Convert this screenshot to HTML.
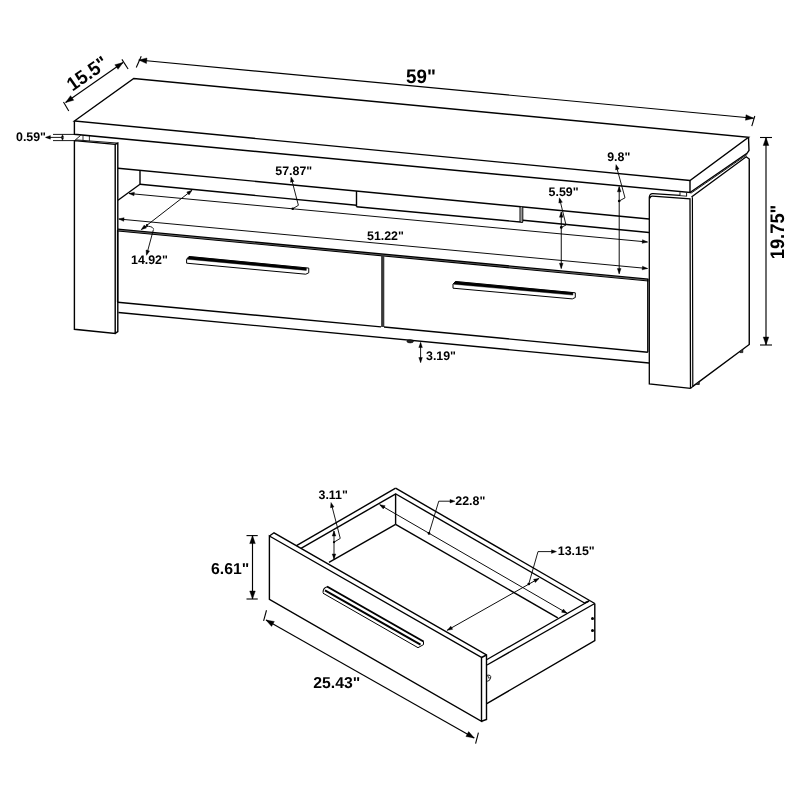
<!DOCTYPE html>
<html><head><meta charset="utf-8"><title>TV stand dimensions</title>
<style>
html,body{margin:0;padding:0;background:#fff;}
body{width:800px;height:800px;overflow:hidden;}
svg{display:block;}
svg line,svg path,svg ellipse{stroke:#000;stroke-linecap:butt;stroke-linejoin:miter;}
svg text{text-rendering:geometricPrecision;font-family:"Liberation Sans",sans-serif;font-weight:bold;fill:#000;stroke:none;}
</style></head><body>
<svg width="800" height="800" viewBox="0 0 800 800" style="will-change:transform;opacity:0.999;filter:blur(0.3px)">
<rect x="0" y="0" width="800" height="800" fill="#fff" stroke="none"/>
<path d="M74.40 121.00 L133.75 78.50 L748.50 137.30 L690.00 180.50 Z" stroke-width="1.4" fill="none" />
<path d="M74.40 121.00 L74.40 134.30 L690.00 192.50 L690.00 180.50" stroke-width="1.4" fill="none" />
<path d="M690.00 192.50 L747.00 153.30 L749.00 150.50 L748.50 137.30" stroke-width="1.4" fill="none" />
<line x1="690.80" y1="193.30" x2="747.30" y2="154.40" stroke-width="0.9" />
<path d="M74.40 140.60 L74.40 329.30 L115.20 333.40 L115.20 144.40 L74.40 140.60" stroke-width="1.4" fill="none" />
<path d="M115.20 144.40 L117.80 143.10 L117.80 331.60 L115.20 333.40" stroke-width="1.4" fill="none" />
<line x1="76.20" y1="139.90" x2="117.80" y2="143.10" stroke-width="0.9" />
<line x1="74.80" y1="140.40" x2="80.60" y2="135.40" stroke-width="0.9" />
<line x1="83.00" y1="135.30" x2="83.00" y2="140.30" stroke-width="0.8" />
<line x1="89.40" y1="135.90" x2="89.40" y2="140.90" stroke-width="0.8" />
<path d="M690.6 388.4 L649.3 384 L649.3 197.6 Q649.3 193.5 653 193.7 L680 195.4" fill="none" stroke-width="1.3"/>
<path d="M649.9 198.4 Q650.2 196.1 652.4 196.2 L690 198.8 L690.5 388.4" fill="none" stroke-width="1.3"/>
<path d="M692.40 197.30 L692.80 386.40 L690.60 388.40" stroke-width="1.2" fill="none" />
<line x1="680.00" y1="192.20" x2="680.00" y2="195.60" stroke-width="0.9" />
<line x1="686.60" y1="192.80" x2="686.60" y2="196.40" stroke-width="0.9" />
<line x1="680.00" y1="195.60" x2="686.60" y2="196.20" stroke-width="0.8" />
<path d="M691.50 197.00 L746.20 156.80 L749.25 159.00 L749.25 344.50 L692.80 386.40" stroke-width="1.4" fill="none" />
<path d="M696.50 383.40 L696.50 384.50 L699.30 384.50 L699.30 381.40" stroke-width="0.7" fill="#333" />
<path d="M740.00 351.20 L740.00 352.60 L742.80 352.60 L742.80 349.20" stroke-width="0.7" fill="#333" />
<line x1="118.00" y1="168.20" x2="649.00" y2="219.00" stroke-width="1.4" />
<line x1="140.00" y1="170.31" x2="140.00" y2="184.30" stroke-width="1.4" />
<line x1="140.00" y1="184.30" x2="356.50" y2="205.30" stroke-width="1.4" />
<line x1="356.50" y1="191.02" x2="356.50" y2="206.80" stroke-width="1.4" />
<line x1="356.50" y1="206.80" x2="522.80" y2="222.20" stroke-width="1.4" />
<line x1="521.40" y1="206.81" x2="521.40" y2="222.00" stroke-width="1.8" style="stroke:#999"/>
<line x1="520.00" y1="206.67" x2="520.00" y2="222.00" stroke-width="1.0" />
<line x1="522.80" y1="206.94" x2="522.80" y2="222.20" stroke-width="1.0" />
<line x1="522.80" y1="220.30" x2="649.00" y2="232.50" stroke-width="1.4" />
<line x1="140.00" y1="184.30" x2="118.00" y2="200.25" stroke-width="1.4" />
<line x1="129.00" y1="193.50" x2="647.50" y2="242.00" stroke-width="0.95" />
<path d="M129.00 193.50 L134.35 192.14 L134.01 195.83 Z" fill="#000" stroke="#000" stroke-width="0.4"/>
<path d="M647.50 242.00 L642.15 243.36 L642.49 239.67 Z" fill="#000" stroke="#000" stroke-width="0.4"/>
<line x1="118.75" y1="219.00" x2="647.50" y2="268.50" stroke-width="0.95" />
<path d="M118.75 219.00 L124.10 217.64 L123.75 221.33 Z" fill="#000" stroke="#000" stroke-width="0.4"/>
<path d="M647.50 268.50 L642.15 269.86 L642.50 266.17 Z" fill="#000" stroke="#000" stroke-width="0.4"/>
<line x1="117.80" y1="230.10" x2="648.50" y2="280.05" stroke-width="1.6" style="stroke:#777"/>
<line x1="117.80" y1="231.00" x2="648.50" y2="280.90" stroke-width="1.05" />
<line x1="117.80" y1="229.10" x2="648.50" y2="279.10" stroke-width="1.4" />
<line x1="117.60" y1="229.70" x2="117.60" y2="302.20" stroke-width="1.4" />
<line x1="117.60" y1="302.20" x2="381.00" y2="326.90" stroke-width="1.4" />
<line x1="382.70" y1="255.50" x2="382.70" y2="327.00" stroke-width="3.2" style="stroke:#383838"/>
<line x1="384.00" y1="327.00" x2="647.80" y2="352.20" stroke-width="1.4" />
<line x1="647.80" y1="279.00" x2="647.80" y2="352.20" stroke-width="1.4" />
<line x1="118.40" y1="312.50" x2="649.00" y2="363.00" stroke-width="1.4" />
<ellipse cx="410.2" cy="341.3" rx="3.3" ry="1.6" fill="#222" stroke="#000" stroke-width="0.6"/>
<path d="M189.00 256.50 L308.75 268.10 L308.75 272.80 L305.75 274.20 L186.60 263.20 L186.60 259.20 Z" stroke-width="1.0" fill="#fff" />
<path d="M189.00 256.50 L306.35 267.90 L306.35 270.40 L187.00 259.20 Z" stroke-width="0.4" fill="#000" />
<path d="M455.40 281.50 L575.30 292.80 L575.30 297.50 L572.30 298.90 L453.00 288.20 L453.00 284.20 Z" stroke-width="1.0" fill="#fff" />
<path d="M455.40 281.50 L572.90 292.60 L572.90 295.10 L453.40 284.20 Z" stroke-width="0.4" fill="#000" />
<line x1="65.60" y1="102.50" x2="123.00" y2="62.50" stroke-width="1.15" />
<path d="M65.60 102.50 L70.56 95.63 L73.76 100.22 Z" fill="#000" stroke="#000" stroke-width="0.4"/>
<path d="M123.00 62.50 L118.04 69.37 L114.84 64.78 Z" fill="#000" stroke="#000" stroke-width="0.4"/>
<line x1="63.50" y1="102.00" x2="68.75" y2="111.00" stroke-width="1.1" />
<line x1="121.90" y1="59.40" x2="128.10" y2="69.00" stroke-width="1.1" />
<text x="72.6" y="91.8" font-size="19.3" text-anchor="start" transform="rotate(-35 72.6 91.8)" textLength="45" lengthAdjust="spacingAndGlyphs">15.5&quot;</text>
<line x1="138.75" y1="60.00" x2="753.70" y2="118.25" stroke-width="1.15" />
<path d="M138.75 60.00 L146.98 57.97 L146.45 63.54 Z" fill="#000" stroke="#000" stroke-width="0.4"/>
<path d="M753.70 118.25 L745.47 120.28 L746.00 114.71 Z" fill="#000" stroke="#000" stroke-width="0.4"/>
<line x1="141.25" y1="56.25" x2="136.25" y2="67.50" stroke-width="1.1" />
<line x1="754.80" y1="116.00" x2="751.80" y2="126.20" stroke-width="1.1" />
<text x="406.0" y="82.5" font-size="19.5" text-anchor="start" textLength="29.8" lengthAdjust="spacingAndGlyphs">59&quot;</text>
<line x1="766.00" y1="137.50" x2="766.00" y2="345.00" stroke-width="1.15" />
<path d="M766.00 137.50 L768.80 145.50 L763.20 145.50 Z" fill="#000" stroke="#000" stroke-width="0.4"/>
<path d="M766.00 345.00 L763.20 337.00 L768.80 337.00 Z" fill="#000" stroke="#000" stroke-width="0.4"/>
<line x1="760.00" y1="137.50" x2="772.00" y2="137.50" stroke-width="1.1" />
<line x1="760.00" y1="345.00" x2="772.00" y2="345.00" stroke-width="1.1" />
<text x="784.3" y="259.3" font-size="19.6" text-anchor="start" transform="rotate(-90 784.3 259.3)" textLength="54.6" lengthAdjust="spacingAndGlyphs">19.75&quot;</text>
<text x="16" y="141.2" font-size="12.4" text-anchor="start">0.59&quot;</text>
<line x1="53.00" y1="134.40" x2="75.00" y2="134.40" stroke-width="0.9" />
<line x1="53.00" y1="140.60" x2="75.00" y2="140.60" stroke-width="0.9" />
<line x1="46.00" y1="137.40" x2="62.50" y2="137.40" stroke-width="0.9" />
<path d="M45.40 137.40 L50.40 135.60 L50.40 139.20 Z" fill="#000" stroke="#000" stroke-width="0.4"/>
<path d="M62.50 134.60 L63.60 137.20 L61.40 137.20 Z" fill="#000" stroke="#000" stroke-width="0.4"/>
<path d="M62.50 140.40 L61.40 137.80 L63.60 137.80 Z" fill="#000" stroke="#000" stroke-width="0.4"/>
<line x1="192.00" y1="190.30" x2="141.30" y2="229.60" stroke-width="0.95" />
<path d="M192.00 190.30 L189.02 194.95 L186.76 192.02 Z" fill="#000" stroke="#000" stroke-width="0.4"/>
<path d="M141.30 229.60 L144.28 224.95 L146.54 227.88 Z" fill="#000" stroke="#000" stroke-width="0.4"/>
<path d="M142.6 228.6 A5.7 3.6 0 0 1 153.6 229.6" fill="none" stroke-width="0.9"/>
<circle cx="147" cy="225" r="1.1" fill="#000" stroke="none"/>
<line x1="153.30" y1="230.00" x2="146.70" y2="254.50" stroke-width="0.9" />
<path d="M146.50 255.30 L146.06 250.00 L149.54 250.94 Z" fill="#000" stroke="#000" stroke-width="0.4"/>
<text x="131" y="264.3" font-size="12.4" text-anchor="start">14.92&quot;</text>
<circle cx="292.75" cy="208.7" r="1.3" fill="#000" stroke="none"/>
<path d="M292.75 208.70 L298.40 205.30 L291.40 178.50" stroke-width="0.9" fill="none" />
<path d="M291.00 177.00 L294.01 181.38 L290.52 182.29 Z" fill="#000" stroke="#000" stroke-width="0.4"/>
<text x="275.3" y="175" font-size="12.4" text-anchor="start">57.87&quot;</text>
<text x="367" y="239.6" font-size="12.4" text-anchor="start">51.22&quot;</text>
<line x1="561.25" y1="212.00" x2="561.25" y2="268.50" stroke-width="0.95" />
<path d="M561.25 212.00 L563.10 217.20 L559.40 217.20 Z" fill="#000" stroke="#000" stroke-width="0.4"/>
<path d="M561.25 268.50 L559.40 263.30 L563.10 263.30 Z" fill="#000" stroke="#000" stroke-width="0.4"/>
<circle cx="561.25" cy="227.4" r="1.3" fill="#000" stroke="none"/>
<path d="M561.25 227.40 L566.00 225.00 L559.70 199.00" stroke-width="0.9" fill="none" />
<path d="M559.40 197.80 L562.33 202.23 L558.83 203.08 Z" fill="#000" stroke="#000" stroke-width="0.4"/>
<text x="548.6" y="195.6" font-size="12.4" text-anchor="start">5.59&quot;</text>
<line x1="619.20" y1="186.60" x2="619.20" y2="273.75" stroke-width="0.95" />
<path d="M619.20 186.60 L621.05 191.80 L617.35 191.80 Z" fill="#000" stroke="#000" stroke-width="0.4"/>
<path d="M619.20 273.75 L617.35 268.55 L621.05 268.55 Z" fill="#000" stroke="#000" stroke-width="0.4"/>
<circle cx="619.2" cy="201" r="1.3" fill="#000" stroke="none"/>
<path d="M619.20 201.00 L625.00 197.80 L616.30 166.00" stroke-width="0.9" fill="none" />
<path d="M616.00 164.60 L619.05 168.95 L615.57 169.90 Z" fill="#000" stroke="#000" stroke-width="0.4"/>
<text x="607.2" y="161" font-size="12.4" text-anchor="start">9.8&quot;</text>
<line x1="420.60" y1="342.50" x2="420.60" y2="362.50" stroke-width="0.9" />
<path d="M420.60 342.50 L422.40 347.50 L418.80 347.50 Z" fill="#000" stroke="#000" stroke-width="0.4"/>
<path d="M420.60 362.50 L418.80 357.50 L422.40 357.50 Z" fill="#000" stroke="#000" stroke-width="0.4"/>
<text x="426" y="359.8" font-size="12.4" text-anchor="start">3.19&quot;</text>
<path d="M269.40 536.00 L481.50 657.50 L481.50 721.25 L269.40 599.40 Z" stroke-width="1.4" fill="none" />
<path d="M269.40 536.00 L274.00 532.80 L486.50 655.00 L486.50 719.40 L481.50 721.25" stroke-width="1.4" fill="none" />
<line x1="481.50" y1="657.50" x2="486.50" y2="655.00" stroke-width="1.4" />
<path d="M296.50 545.70 L395.60 488.20" stroke-width="1.4" fill="none" />
<path d="M301.00 548.30 L396.20 493.60" stroke-width="1.4" fill="none" />
<path d="M395.60 488.20 L594.80 603.50" stroke-width="1.4" fill="none" />
<path d="M395.90 494.00 L584.50 603.00" stroke-width="1.4" fill="none" />
<path d="M589.00 601.00 L487.00 659.50" stroke-width="1.4" fill="none" />
<path d="M594.80 603.50 L487.00 665.00" stroke-width="1.4" fill="none" />
<line x1="584.50" y1="603.00" x2="589.00" y2="601.00" stroke-width="1.4" />
<path d="M594.80 603.50 L594.80 640.50 L486.80 703.70" stroke-width="1.4" fill="none" />
<line x1="395.60" y1="494.00" x2="395.60" y2="524.40" stroke-width="1.4" />
<line x1="395.60" y1="524.40" x2="329.00" y2="562.30" stroke-width="1.4" />
<line x1="395.60" y1="524.40" x2="557.80" y2="617.80" stroke-width="1.4" />
<circle cx="592.5" cy="618.5" r="1.5" fill="#000" stroke="none"/>
<circle cx="592.5" cy="630.5" r="1.5" fill="#000" stroke="none"/>
<path d="M487 675.3 Q491.5 674.5 490.6 678 Q489.8 681.2 487.2 681.3 M487.6 676.6 Q489.6 676.6 489 678.6" fill="none" stroke-width="0.9"/>
<line x1="327.00" y1="586.50" x2="423.50" y2="641.50" stroke-width="2.0" />
<line x1="325.00" y1="590.30" x2="420.50" y2="644.70" stroke-width="2.0" />
<line x1="323.00" y1="593.20" x2="418.00" y2="647.70" stroke-width="1.0" />
<path d="M327.5 586.8 Q323 587.5 323 592.8" fill="none" stroke-width="1.1"/>
<path d="M423.50 641.30 L423.50 644.60 L418.00 647.70" stroke-width="1.0" fill="none" />
<line x1="252.50" y1="535.60" x2="252.50" y2="599.00" stroke-width="1.15" />
<path d="M252.50 535.60 L255.30 543.60 L249.70 543.60 Z" fill="#000" stroke="#000" stroke-width="0.4"/>
<path d="M252.50 599.00 L249.70 591.00 L255.30 591.00 Z" fill="#000" stroke="#000" stroke-width="0.4"/>
<line x1="246.50" y1="535.60" x2="257.75" y2="535.60" stroke-width="1.1" />
<line x1="246.50" y1="599.00" x2="257.75" y2="599.00" stroke-width="1.1" />
<text x="211.0" y="574.2" font-size="15.8" text-anchor="start">6.61&quot;</text>
<text x="318.5" y="499" font-size="12.4" text-anchor="start">3.11&quot;</text>
<line x1="334.00" y1="531.00" x2="334.00" y2="559.00" stroke-width="0.9" />
<path d="M334.00 531.00 L335.80 536.00 L332.20 536.00 Z" fill="#000" stroke="#000" stroke-width="0.4"/>
<path d="M334.00 559.00 L332.20 554.00 L335.80 554.00 Z" fill="#000" stroke="#000" stroke-width="0.4"/>
<circle cx="334" cy="542.2" r="1.1" fill="#000" stroke="none"/>
<path d="M334.00 542.20 L340.25 538.40 L331.40 504.00" stroke-width="0.9" fill="none" />
<path d="M331.00 502.50 L333.99 506.89 L330.50 507.79 Z" fill="#000" stroke="#000" stroke-width="0.4"/>
<line x1="379.70" y1="504.70" x2="567.00" y2="613.20" stroke-width="0.95" />
<path d="M379.70 504.70 L385.13 505.71 L383.27 508.91 Z" fill="#000" stroke="#000" stroke-width="0.4"/>
<path d="M567.00 613.20 L561.57 612.19 L563.43 608.99 Z" fill="#000" stroke="#000" stroke-width="0.4"/>
<circle cx="429" cy="533.4" r="1.3" fill="#000" stroke="none"/>
<path d="M429.00 533.40 L438.75 501.20 L453.00 501.20" stroke-width="0.9" fill="none" />
<path d="M455.00 501.20 L450.00 503.00 L450.00 499.40 Z" fill="#000" stroke="#000" stroke-width="0.4"/>
<text x="455.3" y="505.4" font-size="12.4" text-anchor="start">22.8&quot;</text>
<line x1="539.00" y1="578.40" x2="447.20" y2="630.30" stroke-width="0.95" />
<path d="M539.00 578.40 L535.38 582.57 L533.56 579.35 Z" fill="#000" stroke="#000" stroke-width="0.4"/>
<path d="M447.20 630.30 L450.82 626.13 L452.64 629.35 Z" fill="#000" stroke="#000" stroke-width="0.4"/>
<circle cx="528.75" cy="584" r="1.3" fill="#000" stroke="none"/>
<path d="M528.75 584.00 L538.00 551.60 L554.00 551.60" stroke-width="0.9" fill="none" />
<path d="M556.50 551.60 L551.50 553.40 L551.50 549.80 Z" fill="#000" stroke="#000" stroke-width="0.4"/>
<text x="557.8" y="555.4" font-size="12.4" text-anchor="start">13.15&quot;</text>
<line x1="266.00" y1="620.00" x2="474.25" y2="738.00" stroke-width="1.15" />
<path d="M266.00 620.00 L274.34 621.51 L271.58 626.38 Z" fill="#000" stroke="#000" stroke-width="0.4"/>
<path d="M474.25 738.00 L465.91 736.49 L468.67 731.62 Z" fill="#000" stroke="#000" stroke-width="0.4"/>
<line x1="266.50" y1="610.25" x2="263.60" y2="620.80" stroke-width="1.1" />
<line x1="478.40" y1="732.60" x2="475.60" y2="743.60" stroke-width="1.1" />
<text x="313.3" y="688.2" font-size="15.8" text-anchor="start">25.43&quot;</text>
</svg>
</body></html>
